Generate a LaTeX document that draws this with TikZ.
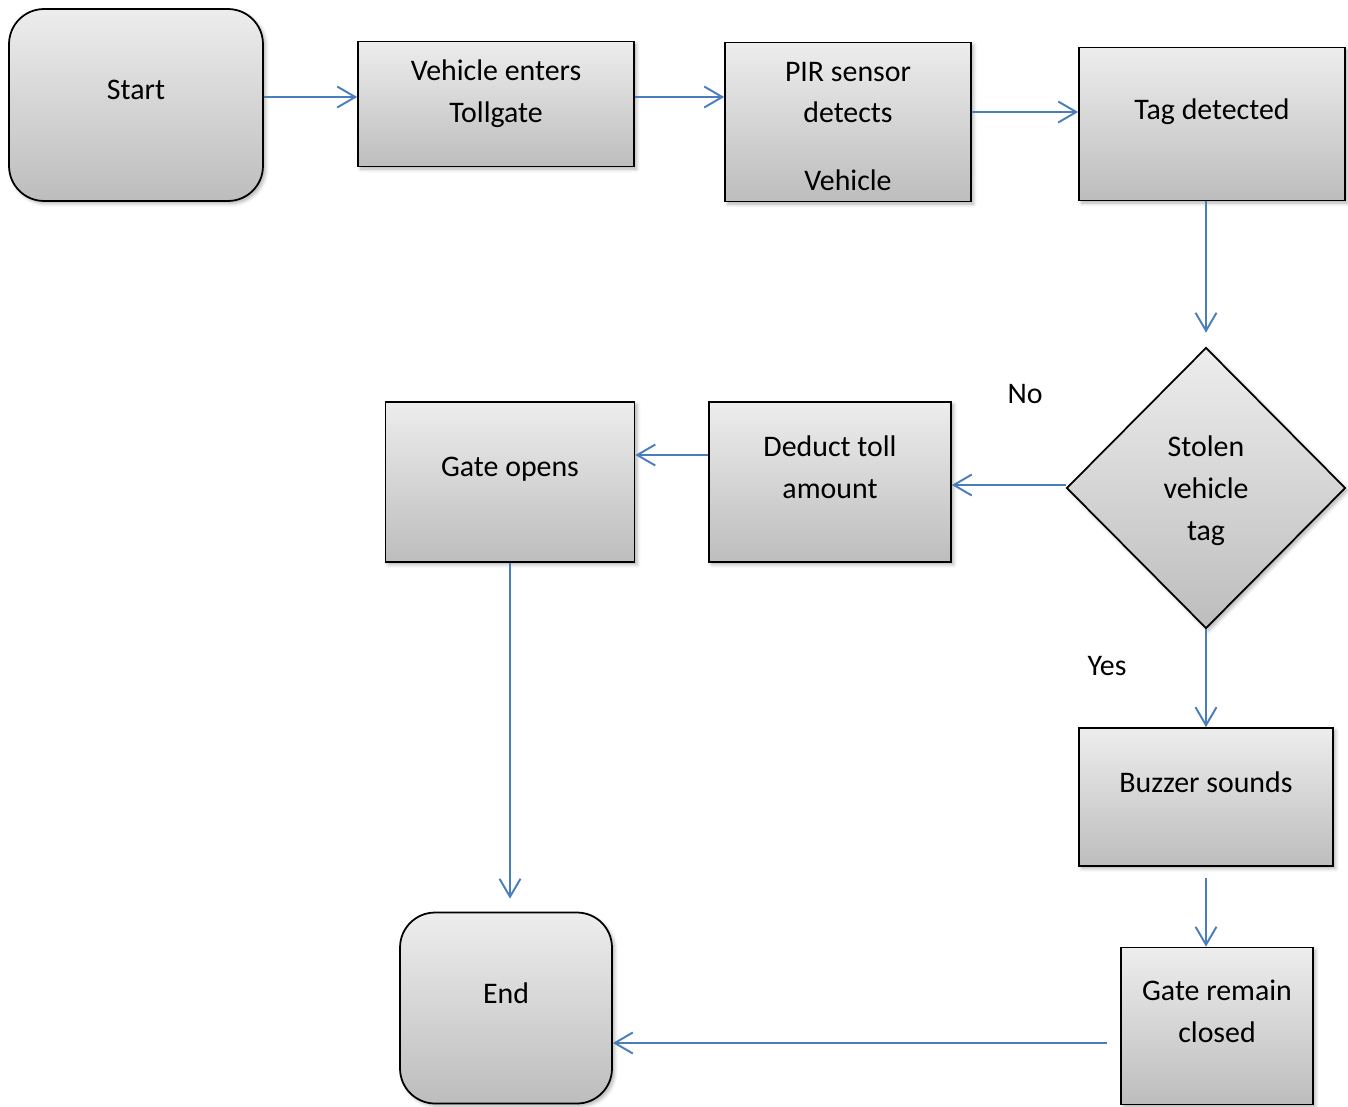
\documentclass[tikz,border=0pt]{standalone}
\usepackage{fontspec}
\setmainfont{Carlito}
\usetikzlibrary{arrows.meta, shapes.geometric, shadows.blur, calc}
\definecolor{fillTop}{HTML}{EDEDED}
\definecolor{fillBot}{HTML}{BDBDBD}
\definecolor{flow}{HTML}{4A7EBB}
\tikzset{
  proc/.style={draw=black, line width=1pt, top color=fillTop, bottom color=fillBot, inner sep=0pt,
    blur shadow={shadow xshift=1.5pt, shadow yshift=-1.5pt, shadow blur radius=2pt, shadow opacity=30}},
  term/.style={proc, rounded corners=0.7cm},
  decide/.style={proc, diamond, aspect=1},
  sz/.style 2 args={minimum width=#1, minimum height=#2},
  txt/.style={font=\fontsize{17}{23.8}\selectfont, text=black, align=center},
  lift/.style={yshift=#1},
  lift/.default=0.3cm,
  arr/.style={-{Straight Barb[length=0.36cm, width=0.42cm]}, draw=flow, line width=1.1pt},
}
\begin{document}
\begin{tikzpicture}[x=0.02cm, y=-0.02cm]
  \useasboundingbox (0,0) rectangle (1348,1106);
  % ---- top row: start -> enter -> sensor -> tag
  \node[term, sz={5.08cm}{3.84cm}, label={[txt, lift]center:Start}] (start) at (136,105) {};
  \node[proc, sz={5.52cm}{2.5cm}, label={[txt, lift=0.21cm]center:{Vehicle enters\\Tollgate}}] (enter) at (496,104) {};
  \node[proc, sz={4.92cm}{3.18cm}, label={[txt, yshift=-0.09cm]center:{PIR sensor\\detects\\[14.8pt]Vehicle}}] (pir) at (848,122) {};
  \node[proc, sz={5.32cm}{3.06cm}, label={[txt, lift=0.24cm]center:Tag detected}] (tag) at (1212,124) {};
  % ---- decision and the two branches
  \node[decide, minimum width=5.58cm, minimum height=5.62cm, label={[txt, yshift=-0.06cm]center:{Stolen\\vehicle\\tag}}] (stolen) at (1206,488) {};
  \node[proc, sz={4.84cm}{3.2cm}, label={[txt, lift]center:{Deduct toll\\amount}}] (deduct) at (830,482) {};
  \node[proc, sz={4.98cm}{3.2cm}, label={[txt, lift=0.26cm]center:Gate opens}] (gopen) at (510,482) {};
  \node[proc, sz={5.08cm}{2.76cm}, label={[txt, lift]center:Buzzer sounds}] (buzzer) at (1206,797) {};
  \node[proc, sz={3.84cm}{3.14cm}, label={[txt, lift]center:{Gate remain\\closed}}] (gclosed) at (1217,1026) {};
  \node[term, sz={4.24cm}{3.82cm}, label={[txt, lift]center:End}] (end) at (506,1008) {};
  \node[txt] (no) at (1025,394) {No};
  \node[txt] (yes) at (1107,666) {Yes};
  % ---- connectors
  \draw[arr] ([yshift=0.16cm]start.east) -- ([yshift=0.16cm]start.east -| enter.west);
  \draw[arr] ([yshift=0.14cm]enter.east) -- ([yshift=0.14cm]enter.east -| pir.west);
  \draw[arr] ([yshift=0.2cm]pir.east) -- ([yshift=0.2cm]pir.east -| tag.west);
  \draw[arr] (stolen.north |- tag.south) -- ([yshift=0.28cm]stolen.north);
  \draw[arr] ([yshift=0.06cm]stolen.west) -- ([yshift=0.06cm]stolen.west -| deduct.east);
  \draw[arr] ([yshift=0.54cm]deduct.west) -- ([yshift=0.54cm]deduct.west -| gopen.east);
  \draw[arr] (gopen.south) -- ($(gopen.south |- end.north)+(0,0.26cm)$);
  \draw[arr] (stolen.south) -- (stolen.south |- buzzer.north);
  \draw[arr] ($(buzzer.south)+(0,-0.22cm)$) -- (buzzer.south |- gclosed.north);
  \draw[arr] ($(gclosed.west)+(-0.26cm,-0.34cm)$) -- ($(gclosed.west -| end.east)+(0,-0.34cm)$);
\end{tikzpicture}
\end{document}
